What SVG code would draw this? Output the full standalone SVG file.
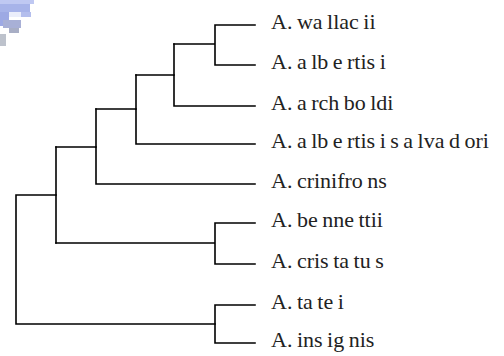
<svg xmlns="http://www.w3.org/2000/svg" width="504" height="356" viewBox="0 0 504 356">
  <style>
    .br { fill: none; stroke: #000; stroke-width: 1.6; stroke-linecap: square; }
    .lbl { font-family: 'Liberation Serif', 'Times New Roman', 'DejaVu Serif', serif; font-size: 22px; fill: #222; word-spacing: -1px; }
  </style>
  <rect width="504" height="356" fill="#fff"/>

  <!-- faint logo mark, top-left corner -->
  <g id="corner-mark" opacity="0.85">
    <rect x="0" y="0" width="34" height="4" fill="#b4bff0"/>
    <rect x="0" y="4" width="30" height="8" fill="#98a6e6"/>
    <rect x="0" y="12" width="9" height="14" fill="#8c9be0"/>
    <rect x="9" y="12" width="12" height="5" fill="#e8ecfb"/>
    <rect x="21" y="12" width="10" height="5" fill="#a8b3ea"/>
    <rect x="3" y="20" width="18" height="8" fill="#9aa3d0"/>
    <rect x="9" y="28" width="10" height="5" fill="#9aa0bc"/>
    <rect x="0" y="34" width="6" height="12" fill="#b2b8c4"/>
  </g>

  <g id="connectors">
    <!-- root -->
    <path class="br" d="M16,195 H56 M16,195 V324 H215"/>
    <path class="br" d="M56,147 V243"/>
    <!-- inner clade -->
    <path class="br" d="M56,147 H96 V184 H255"/>
    <path class="br" d="M96,109 V147"/>
    <path class="br" d="M96,109 H136 V144 H255"/>
    <path class="br" d="M136,75 V109"/>
    <path class="br" d="M136,75 H174 V106 H255"/>
    <path class="br" d="M174,44 V75"/>
    <path class="br" d="M174,44 H215 V25 H255 M215,44 V65 H255"/>
    <!-- bennettii / cristatus -->
    <path class="br" d="M56,243 H215 V223 H255 M215,243 V264 H255"/>
    <!-- tatei / insignis -->
    <path class="br" d="M215,324 V305 H255 M215,324 V343 H255"/>
  </g>

  <g id="leaf-wallacii"><text class="lbl" x="271" y="28.5">A. wa llac ii</text></g>
  <g id="leaf-albertisi"><text class="lbl" x="271" y="68.5">A. a lb e rtis i</text></g>
  <g id="leaf-archboldi"><text class="lbl" x="271" y="109.5">A. a rch bo ldi</text></g>
  <g id="leaf-salvadori"><text class="lbl" x="271" y="147.5">A. a lb e rtis i s a lva d ori</text></g>
  <g id="leaf-crinifrons"><text class="lbl" x="271" y="187.5">A. crinifro ns</text></g>
  <g id="leaf-bennettii"><text class="lbl" x="271" y="226.5">A. be nne ttii</text></g>
  <g id="leaf-cristatus"><text class="lbl" x="271" y="267.5">A. cris ta tu s</text></g>
  <g id="leaf-tatei"><text class="lbl" x="271" y="308.5">A. ta te i</text></g>
  <g id="leaf-insignis"><text class="lbl" x="271" y="346.5">A. ins ig nis</text></g>
</svg>
